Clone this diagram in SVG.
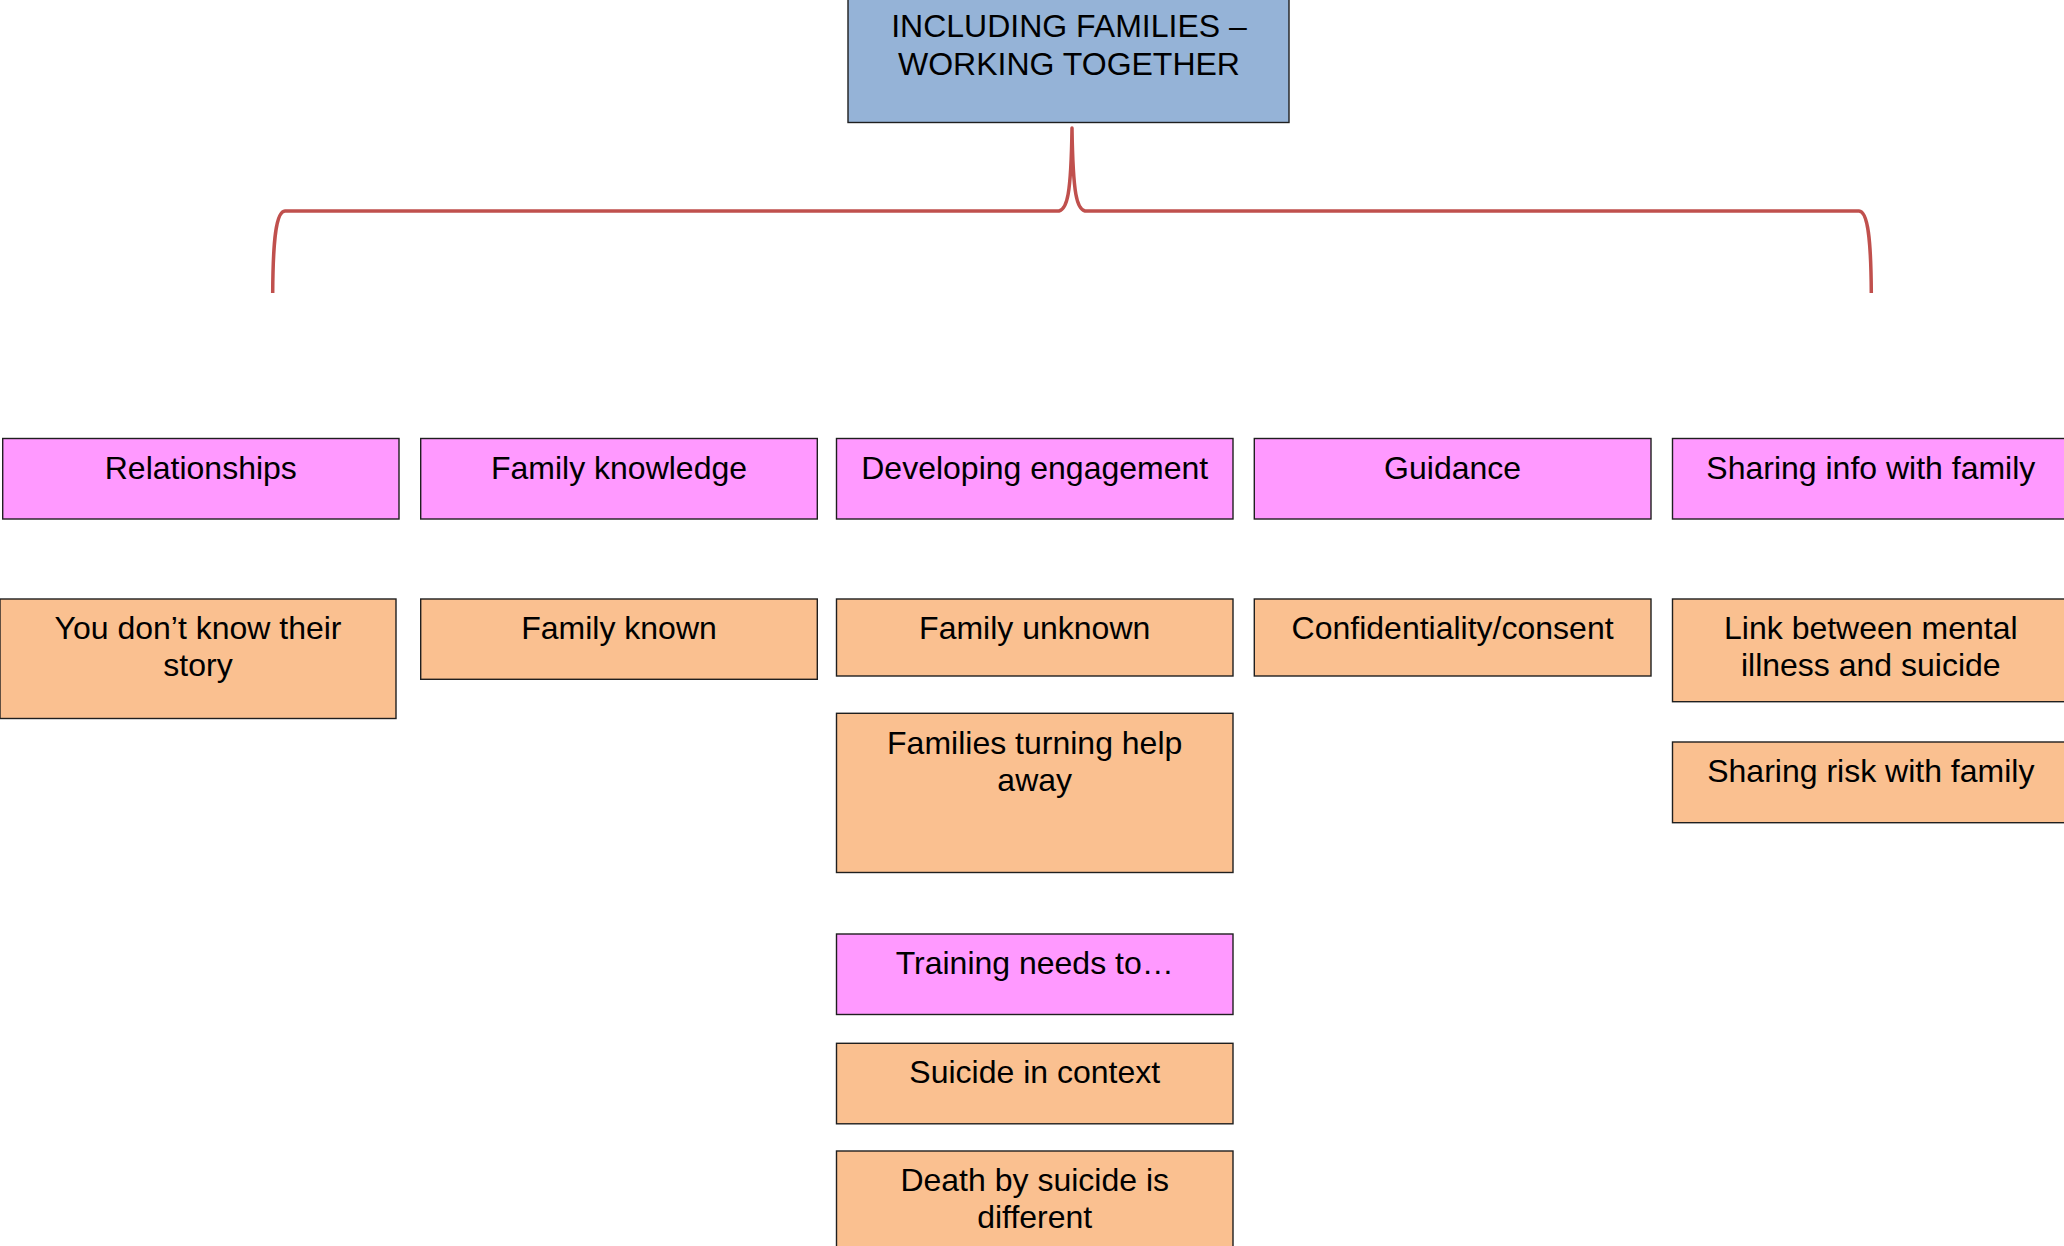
<svg xmlns="http://www.w3.org/2000/svg" width="2064" height="1246" viewBox="0 0 2064 1246">
  <style>
    .box { stroke: #1f1f1f; stroke-width: 1.4; }
    .title { fill: #95B3D7; }
    .head { fill: #FF99FF; }
    .item { fill: #FAC090; }
    text { font-family: "Liberation Sans", Arial, sans-serif; font-size: 32px; fill: #000; text-anchor: middle; }
    .brace { fill: none; stroke: #C0504D; stroke-width: 3.5; stroke-linecap: butt; stroke-linejoin: round; }
  </style>
  <rect width="2064" height="1246" fill="#ffffff"/>

  <!-- curly brace from the title to the five headings -->
  <g id="connectors">
    <path class="brace" d="M272.7,293 C273,240 276,211.5 285,211 L1059,211 C1067,209 1071,196 1072,128 C1073,196 1077,209 1085,211 L1859,211 C1868,211.5 1871,240 1871.3,293"/>
  </g>

  <g id="title">
    <rect class="box title" x="848" y="-2" width="441" height="124.5"/>
    <text x="1069" y="36.7">INCLUDING FAMILIES –</text>
    <text x="1069" y="74.5">WORKING TOGETHER</text>
  </g>

  <!-- headings -->
  <g id="relationships">
    <rect class="box head" x="2.7" y="438.5" width="396.3" height="80.5"/>
    <text x="200.8" y="479">Relationships</text>
  </g>
  <g id="family-knowledge">
    <rect class="box head" x="420.7" y="438.5" width="396.6" height="80.5"/>
    <text x="619" y="479">Family knowledge</text>
  </g>
  <g id="developing-engagement">
    <rect class="box head" x="836.5" y="438.5" width="396.5" height="80.5"/>
    <text x="1034.7" y="479">Developing engagement</text>
  </g>
  <g id="guidance">
    <rect class="box head" x="1254.3" y="438.5" width="396.7" height="80.5"/>
    <text x="1452.6" y="479">Guidance</text>
  </g>
  <g id="sharing-info">
    <rect class="box head" x="1672.5" y="438.5" width="396.5" height="80.5"/>
    <text x="1870.8" y="479">Sharing info with family</text>
  </g>

  <!-- items -->
  <g id="dont-know-story">
    <rect class="box item" x="0" y="599" width="396" height="119.5"/>
    <text x="198" y="638.8">You don’t know their</text>
    <text x="198" y="675.5">story</text>
  </g>
  <g id="family-known">
    <rect class="box item" x="420.7" y="599" width="396.6" height="80.3"/>
    <text x="619" y="638.8">Family known</text>
  </g>
  <g id="family-unknown">
    <rect class="box item" x="836.5" y="599" width="396.5" height="77"/>
    <text x="1034.7" y="638.8">Family unknown</text>
  </g>
  <g id="families-turning">
    <rect class="box item" x="836.5" y="713.3" width="396.5" height="159.2"/>
    <text x="1034.7" y="753.5">Families turning help</text>
    <text x="1034.7" y="790.5">away</text>
  </g>
  <g id="training-needs">
    <rect class="box head" x="836.5" y="934" width="396.5" height="80.5"/>
    <text x="1034.7" y="973.5">Training needs to…</text>
  </g>
  <g id="suicide-context">
    <rect class="box item" x="836.5" y="1043.3" width="396.5" height="80.5"/>
    <text x="1034.7" y="1083">Suicide in context</text>
  </g>
  <g id="death-by-suicide">
    <rect class="box item" x="836.5" y="1151" width="396.5" height="110"/>
    <text x="1034.7" y="1191">Death by suicide is</text>
    <text x="1034.7" y="1227.5">different</text>
  </g>
  <g id="confidentiality">
    <rect class="box item" x="1254.3" y="599" width="396.7" height="77"/>
    <text x="1452.6" y="638.8">Confidentiality/consent</text>
  </g>
  <g id="link-mental-illness">
    <rect class="box item" x="1672.5" y="599" width="396.5" height="102.7"/>
    <text x="1870.8" y="638.8">Link between mental</text>
    <text x="1870.8" y="675.5">illness and suicide</text>
  </g>
  <g id="sharing-risk">
    <rect class="box item" x="1672.5" y="742" width="396.5" height="80.7"/>
    <text x="1870.8" y="781.8">Sharing risk with family</text>
  </g>
</svg>
